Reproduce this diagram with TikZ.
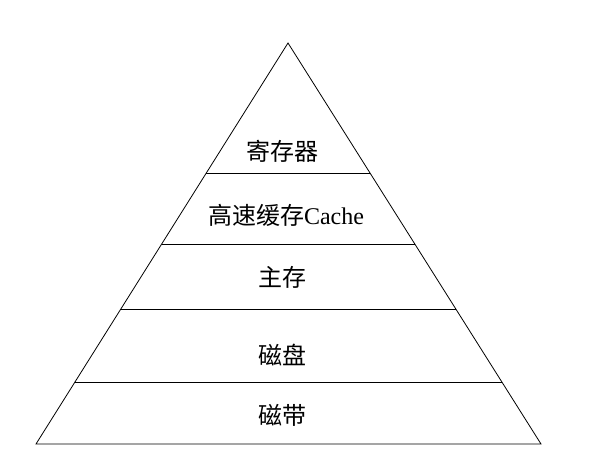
\documentclass[tikz,border=0pt]{standalone}
\usepackage{fontspec}
\setmainfont{Liberation Serif}
\newfontfamily\cjk{Noto Sans CJK SC}
\usetikzlibrary{calc}

\begin{document}
\begin{tikzpicture}[x=1pt,y=1pt]
    \tikzstyle{layer}=[font=\fontsize{24}{26}\selectfont,inner sep=0pt]
    \tikzstyle{edge}=[line width=0.8pt]
    \useasboundingbox (0,0) rectangle (603,467);
    \coordinate (top) at (288,424);
    \coordinate (bl) at (36,23);
    \coordinate (br) at (541,23);
    \draw[edge] (top) -- (bl) -- (br) -- cycle;
    % layer boundaries
    \foreach \t in {0.3242,0.5012,0.6633,0.8454}{
      \draw[edge] ($(top)!\t!(bl)$) -- ($(top)!\t!(br)$);
    }
    \node[layer] (reg) at (282,316) {\cjk 寄存器};
    \node[layer] (cache) at (286,252) {{\cjk 高速缓存}Cache};
    \node[layer] (mem) at (282,190) {\cjk 主存};
    \node[layer] (disk) at (282,112) {\cjk 磁盘};
    \node[layer] (tape) at (282,52) {\cjk 磁带};
\end{tikzpicture}
\end{document}
